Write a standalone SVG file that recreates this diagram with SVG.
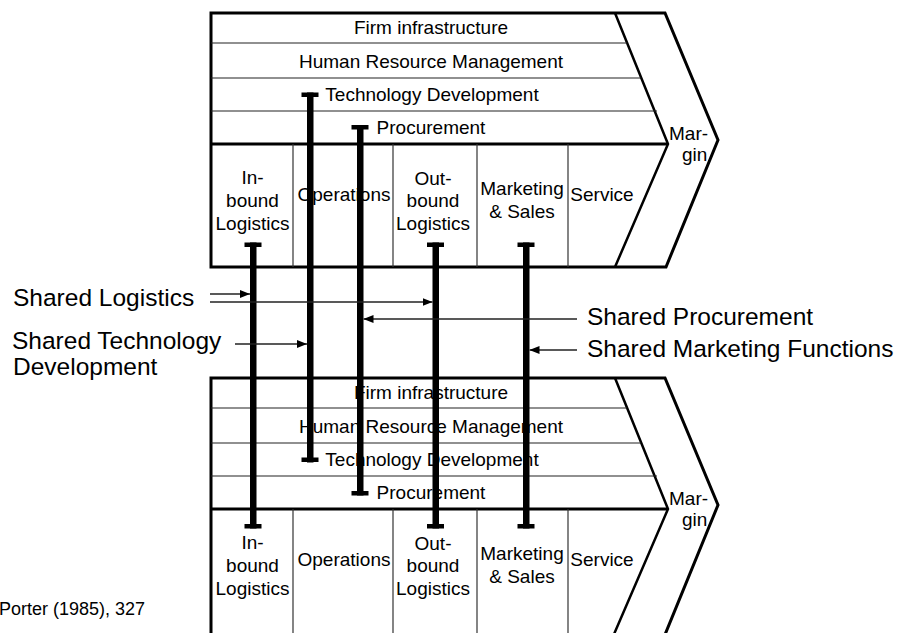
<svg xmlns="http://www.w3.org/2000/svg" width="900" height="633" viewBox="0 0 900 633">
<style>
text{font-family:"Liberation Sans",Arial,sans-serif;fill:#000}
.t{font-size:19px}
.m{text-anchor:middle}
.lbl{font-size:24.5px}
.src{font-size:18px}
.outer{fill:#fff;stroke:#000;stroke-width:3;stroke-linejoin:miter}
.chev{fill:none;stroke:#000;stroke-width:2.5}
.row{stroke:#222;stroke-width:1.2}
.sep{stroke:#000;stroke-width:3}
.col{stroke:#333;stroke-width:1.2}
.bar{fill:#000}
.arr{stroke:#222;stroke-width:1.3;fill:none;marker-end:url(#ah)}
</style>
<defs>
<marker id="ah" viewBox="0 0 10 8" refX="10" refY="4" markerWidth="10" markerHeight="8" markerUnits="userSpaceOnUse" orient="auto">
<path d="M0,0 L10,4 L0,8 Z" fill="#000"/>
</marker>
</defs>

<g id="chain-top">
<path class="outer" d="M211,13 H665 L718,140 L666,267 H211 Z"/>
<path class="chev" d="M615,13 L668,144 L615,267"/>
<line class="row" x1="211" y1="43" x2="627" y2="43"/>
<line class="row" x1="211" y1="78" x2="641" y2="78"/>
<line class="row" x1="211" y1="111" x2="657" y2="111"/>
<line class="sep" x1="211" y1="144" x2="668" y2="144"/>
<line class="col" x1="293" y1="144" x2="293" y2="267"/>
<line class="col" x1="393" y1="144" x2="393" y2="267"/>
<line class="col" x1="477" y1="144" x2="477" y2="267"/>
<line class="col" x1="568" y1="144" x2="568" y2="267"/>
<g id="top-firm"><text class="t m" x="431" y="34">Firm infrastructure</text></g>
<g id="top-hrm"><text class="t m" x="431" y="68">Human Resource Management</text></g>
<g id="top-tech"><text class="t m" x="432" y="101">Technology Development</text></g>
<g id="top-proc"><text class="t m" x="431" y="134">Procurement</text></g>
<g id="top-inbound"><text class="t m" x="252.5" y="184">In-</text><text class="t m" x="252.5" y="207">bound</text><text class="t m" x="252.5" y="230">Logistics</text></g>
<g id="top-ops"><text class="t m" x="344" y="201">Operations</text></g>
<g id="top-outbound"><text class="t m" x="433" y="185">Out-</text><text class="t m" x="433" y="207">bound</text><text class="t m" x="433" y="230">Logistics</text></g>
<g id="top-mkt"><text class="t m" x="522" y="195">Marketing</text><text class="t m" x="522" y="218">&amp; Sales</text></g>
<g id="top-service"><text class="t m" x="602" y="201">Service</text></g>
<g id="top-margin"><text class="t" x="669" y="140">Mar-</text><text class="t" x="682" y="161">gin</text></g>
</g>

<g id="chain-bottom" transform="translate(0,365)">
<path class="outer" d="M211,275 V13 H665 L718,140 L662.8,275"/>
<path class="chev" d="M615,13 L668,144 L611.5,275"/>
<line class="row" x1="211" y1="43" x2="627" y2="43"/>
<line class="row" x1="211" y1="78" x2="641" y2="78"/>
<line class="row" x1="211" y1="111" x2="657" y2="111"/>
<line class="sep" x1="211" y1="144" x2="668" y2="144"/>
<line class="col" x1="293" y1="144" x2="293" y2="275"/>
<line class="col" x1="393" y1="144" x2="393" y2="275"/>
<line class="col" x1="477" y1="144" x2="477" y2="275"/>
<line class="col" x1="568" y1="144" x2="568" y2="275"/>
<g id="bot-firm"><text class="t m" x="431" y="34">Firm infrastructure</text></g>
<g id="bot-hrm"><text class="t m" x="431" y="68">Human Resource Management</text></g>
<g id="bot-tech"><text class="t m" x="432" y="101">Technology Development</text></g>
<g id="bot-proc"><text class="t m" x="431" y="134">Procurement</text></g>
<g id="bot-inbound"><text class="t m" x="252.5" y="184">In-</text><text class="t m" x="252.5" y="207">bound</text><text class="t m" x="252.5" y="230">Logistics</text></g>
<g id="bot-ops"><text class="t m" x="344" y="201">Operations</text></g>
<g id="bot-outbound"><text class="t m" x="433" y="185">Out-</text><text class="t m" x="433" y="207">bound</text><text class="t m" x="433" y="230">Logistics</text></g>
<g id="bot-mkt"><text class="t m" x="522" y="195">Marketing</text><text class="t m" x="522" y="218">&amp; Sales</text></g>
<g id="bot-service"><text class="t m" x="602" y="201">Service</text></g>
<g id="bot-margin"><text class="t" x="669" y="140">Mar-</text><text class="t" x="682" y="161">gin</text></g>
</g>

<g id="connectors">
<g id="link-inbound">
<rect class="bar" x="250" y="242.5" width="6.5" height="286"/>
<rect class="bar" x="244.5" y="242.5" width="17" height="4.5"/>
<rect class="bar" x="244.5" y="524" width="17" height="4.5"/>
</g>
<g id="link-tech">
<rect class="bar" x="307" y="92.5" width="6.5" height="370"/>
<rect class="bar" x="301.5" y="92.5" width="17" height="4.5"/>
<rect class="bar" x="301.5" y="457.5" width="17" height="4.5"/>
</g>
<g id="link-proc">
<rect class="bar" x="357" y="125" width="6.5" height="370.5"/>
<rect class="bar" x="351.5" y="125" width="17" height="4.5"/>
<rect class="bar" x="351.5" y="491" width="17" height="4.5"/>
</g>
<g id="link-outbound">
<rect class="bar" x="432.5" y="242.5" width="6.5" height="286"/>
<rect class="bar" x="427" y="242.5" width="17" height="4.5"/>
<rect class="bar" x="427" y="524" width="17" height="4.5"/>
</g>
<g id="link-mkt">
<rect class="bar" x="523" y="242.5" width="6.5" height="286"/>
<rect class="bar" x="517.5" y="242.5" width="17" height="4.5"/>
<rect class="bar" x="517.5" y="524" width="17" height="4.5"/>
</g>
<line class="arr" x1="210" y1="294" x2="250" y2="294"/>
<line class="arr" x1="210" y1="302" x2="432.5" y2="302"/>
<line class="arr" x1="235" y1="344" x2="307" y2="344"/>
<line class="arr" x1="577" y1="319" x2="363.5" y2="319"/>
<line class="arr" x1="577" y1="350" x2="529.5" y2="350"/>
</g>

<g id="labels">
<text class="lbl" x="13" y="306">Shared Logistics</text>
<text class="lbl" x="12" y="349">Shared Technology</text>
<text class="lbl" x="13" y="375">Development</text>
<text class="lbl" x="587" y="325">Shared Procurement</text>
<text class="lbl" x="587" y="357">Shared Marketing Functions</text>
<text class="src" x="-1" y="615">Porter (1985), 327</text>
</g>
</svg>
